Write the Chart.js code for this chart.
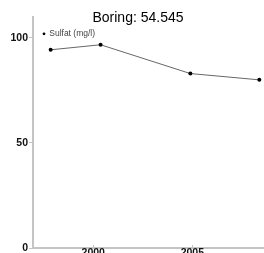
<!DOCTYPE html>
<html>
  <head>
    <title>Boring: 54.545</title>
    <style>
      body {
        margin: 0;
        overflow: hidden;
        background: #fff;
      }
      #wrap {
        width: 276px;
        height: 278px;
      }
    </style>
  </head>
  <body>
    <div id="wrap"><canvas id="chart" width="276" height="278"></canvas></div>

    <script src="https://cdn.jsdelivr.net/npm/chart.js@4"></script>
    <script type="text/javascript">
      // sampling dates as decimal years
      const years = [1997.85, 2000.37, 2004.9, 2008.38];
      const sulfat = [94.3, 96.7, 83.0, 80.0];
      const seriesLabel = 'Sulfat (mg/l)';
      const xTicks = [2000, 2005];
      const yTicks = [0, 50, 100];

      const font = "'Liberation Sans', Arial, sans-serif";
      const axisGray = '#c4c4c4';

      new Chart(document.getElementById('chart'), {
        type: 'line',
        data: {
          datasets: [
            {
              label: seriesLabel,
              data: years.map((x, i) => ({ x, y: sulfat[i] })),
              borderColor: '#666',
              borderWidth: 1,
              pointRadius: 2,
              pointBackgroundColor: '#000',
              pointBorderColor: '#000',
              pointBorderWidth: 0,
              tension: 0,
            },
          ],
        },
        options: {
          responsive: false,
          animation: false,
          layout: { padding: 0 },
          plugins: {
            title: {
              display: true,
              text: 'Boring: 54.545',
              color: '#000',
              font: { family: font, size: 14, weight: 'normal' },
              padding: { top: 10, bottom: -10 },
            },
            legend: {
              position: 'chartArea',
              align: 'start',
              // empty title only pushes the legend row down
              title: { display: true, text: '', font: { size: 8 }, padding: { top: 10, bottom: 0 } },
              labels: {
                usePointStyle: true,
                pointStyle: 'circle',
                boxWidth: 2,
                boxHeight: 2,
                padding: 10,
                color: '#444',
                font: { family: font, size: 8.5 },
              },
            },
            tooltip: { enabled: false },
          },
          scales: {
            x: {
              type: 'linear',
              min: 1996.96,
              max: 2009.02,
              border: { color: axisGray, width: 2 },
              grid: { drawOnChartArea: false, color: axisGray, tickLength: -3 },
              afterBuildTicks: (scale) => {
                scale.ticks = xTicks.map((value) => ({ value }));
              },
              afterFit: (scale) => {
                scale.height = 30;
              },
              ticks: {
                padding: 2,
                color: '#111',
                font: { family: font, size: 10.5, weight: 'bold' },
                callback: (v) => String(v),
              },
            },
            y: {
              min: 0,
              max: 110,
              border: { color: axisGray, width: 2 },
              grid: { drawOnChartArea: false, color: axisGray, tickLength: 4 },
              afterBuildTicks: (scale) => {
                scale.ticks = yTicks.map((value) => ({ value }));
              },
              afterFit: (scale) => {
                scale.width = 33;
              },
              ticks: {
                padding: 1,
                color: '#111',
                font: { family: font, size: 10.5, weight: 'bold' },
              },
            },
          },
        },
      });
    </script>
  </body>
</html>
